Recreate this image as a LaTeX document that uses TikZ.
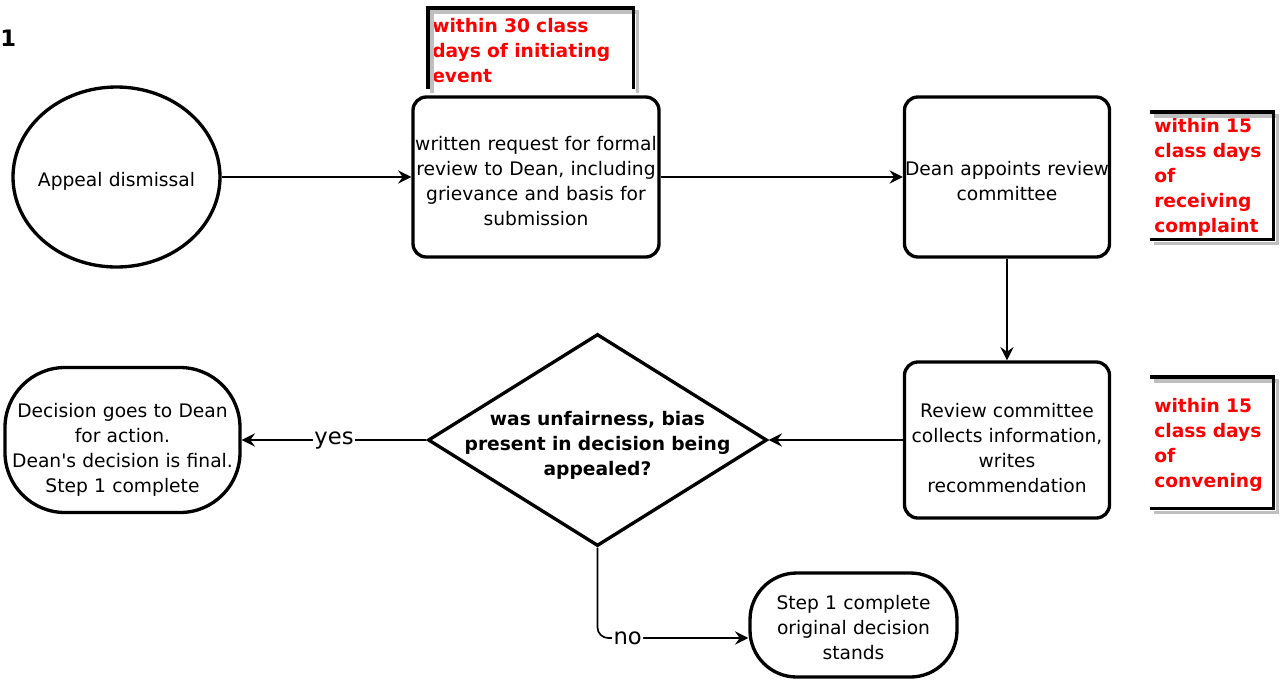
\documentclass[tikz,border=0pt]{standalone}
\usepackage{fontspec}
\setmainfont{DejaVu Sans}
\usetikzlibrary{arrows.meta}
\usetikzlibrary{shapes.geometric}

\begin{document}
\begin{tikzpicture}[x=0.75pt,y=-0.75pt,>={Stealth[length=10pt,width=10pt,inset=3.5pt]},
  every node/.style={font=\fontsize{14}{18.75}\selectfont},
  box/.style={draw,line width=2.5pt,rounded corners=10pt,align=center,inner sep=1pt},
  term/.style={box,rounded corners=45pt},
  oval/.style={draw,ellipse,line width=2.5pt,inner sep=0pt,text width=0pt},
  decision/.style={draw,diamond,line width=2.5pt,inner sep=0pt,text width=0pt},
  push/.style={execute at begin node=\rule{0pt}{#1}},
  note/.style={text=red,font=\fontsize{14}{18.75}\selectfont\bfseries,align=left,inner xsep=3pt,inner ysep=1pt,anchor=north west},
  rim/.style={line width=2.5pt},
  shade/.style={line width=2.5pt,color=black!25},
  link/.style={line width=1.25pt},
  tag/.style={fill=white,inner sep=1pt,font=\fontsize{17}{20}\selectfont}]
\useasboundingbox (0,0) rectangle (1281,687);

\node[anchor=west,inner sep=0pt,font=\fontsize{17}{20}\selectfont\bfseries] (num) at (0,38) {1};

\node[oval,push=16.6pt,minimum width=155.25pt,minimum height=135pt] (appeal) at (116.5,177) {\makebox[0pt]{Appeal dismissal}};
\node[box,push=16.5pt,text width=182.5pt,minimum width=184.5pt,minimum height=120pt] (request) at (536,177) {written request for formal\\review to Dean, including\\grievance and basis for\\submission};
\node[box,push=16.5pt,inner xsep=0pt,text width=153.75pt,minimum width=153.75pt,minimum height=120pt] (appoint) at (1007,177) {\mbox{Dean appoints review}\\committee};
\node[box,push=22.5pt,text width=151.75pt,minimum width=153.75pt,minimum height=117pt] (collect) at (1007,440) {Review committee\\collects information,\\writes\\recommendation};
\node[decision,push=22pt,minimum width=254.25pt,minimum height=159pt] (bias) at (597.5,440) {\makebox[0pt]{\bfseries\begin{tabular}[t]{@{}c@{}}was unfairness, bias\\present in decision being\\appealed?\end{tabular}}};
\node[term,push=25.5pt,text width=174.25pt,minimum width=176.25pt,minimum height=108.75pt] (final) at (122.5,440) {Decision goes to Dean\\for action.\\Dean\textquotesingle s decision is final.\\Step 1 complete};
\node[term,push=15pt,rounded corners=35pt,text width=153.25pt,minimum width=155.25pt,minimum height=78pt] (stands) at (853.5,625) {Step 1 complete\\original decision\\stands};

\node[note,text width=147.75pt,minimum height=57pt] (due1) at (428,12) {within 30 class\\days of initiating\\event};
\node[note,text width=86.25pt,minimum height=92.25pt] (due2) at (1150,116) {within 15\\class days\\of\\receiving\\complaint};
\node[note,text width=86.25pt,minimum height=95.25pt] (due3) at (1150,381) {within 15\\class days\\of\\convening};

\draw[shade] ([shift={(4,4)}]due1.south west) -- ([shift={(4,0)}]due1.north west) -- ([shift={(4,0)}]due1.north east) -- ([shift={(4,4)}]due1.south east);
\draw[rim] (due1.south west) -- ([yshift=3pt]due1.north west) -- ([yshift=3pt]due1.north east) -- (due1.south east);
\foreach \n in {due2,due3} {
  \draw[shade] ([shift={(4,0)}]\n.north west) -- ([shift={(4,0)}]\n.north east) -- ([shift={(4,4)}]\n.south east) -- ([shift={(4,4)}]\n.south west);
  \draw[rim] ([yshift=3pt]\n.north west) -- ([yshift=3pt]\n.north east) -- (\n.south east) -- (\n.south west);
}

\draw[->,link] (appeal) -- (request);
\draw[->,link] (request) -- (appoint);
\draw[->,link] (appoint) -- (collect);
\draw[->,link] (collect) -- (bias);
\draw[->,link] (bias) -- node[tag]{yes} (final);
\draw[->,link,rounded corners=8pt] (bias.south) |- node[tag,pos=0.6]{no} ([yshift=-9.75pt]stands.west);
\end{tikzpicture}
\end{document}
